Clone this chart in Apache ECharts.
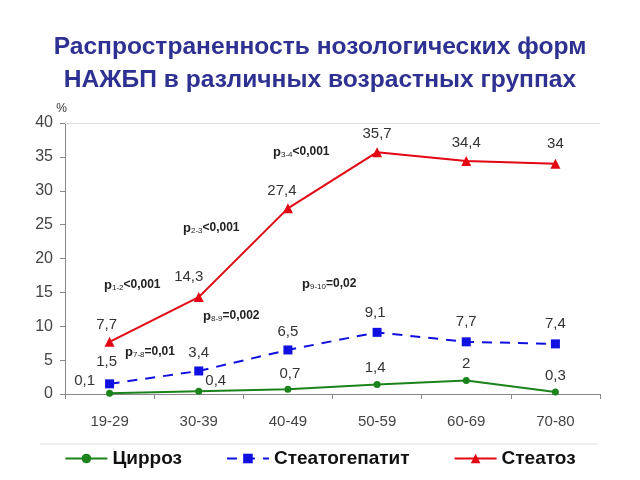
<!DOCTYPE html>
<html>
<head>
<meta charset="utf-8">
<script src="https://cdn.jsdelivr.net/npm/echarts@6/dist/echarts.min.js"></script>
<style>html,body{margin:0;padding:0;background:#fff}#c{width:640px;height:480px}</style>
</head>
<body>
<div id="c"></div>
<script>
const categories = ['19-29', '30-39', '40-49', '50-59', '60-69', '70-80'];
const seriesNames = ['Цирроз', 'Стеатогепатит', 'Стеатоз'];
const cirrhosis = [0.1, 0.4, 0.7, 1.4, 2, 0.3];
const steatohepatitis = [1.5, 3.4, 6.5, 9.1, 7.7, 7.4];
const steatosis = [7.7, 14.3, 27.4, 35.7, 34.4, 34];
const yTicks = [0, 5, 10, 15, 20, 25, 30, 35, 40];
const pNotes = [
  { sub: '1-2', rest: '<0,001' },
  { sub: '2-3', rest: '<0,001' },
  { sub: '3-4', rest: '<0,001' },
  { sub: '7-8', rest: '=0,01' },
  { sub: '8-9', rest: '=0,002' },
  { sub: '9-10', rest: '=0,02' }
];

// label offsets (styling only)
const offCir = [[-25,-12],[17,-10],[2,-15],[-2,-17],[0,-17],[0,-16]];
const offHep = [[-3,-22],[0,-18],[0,-18],[-2,-19],[0,-20],[0,-20]];
const offSt  = [[-3,-17],[-10,-20],[-6,-18],[0,-18],[0,-18],[0,-20]];
const notePos = [[104,285],[183,228],[273,152],[125,352],[203,316],[302,284]];

const fmt = v => String(v).replace('.', ',');
function mkData(vals, offs) {
  return vals.map((v, i) => ({
    value: v,
    label: { show: true, position: 'inside', offset: offs[i], formatter: () => fmt(v) }
  }));
}
const lblStyle = { color: '#333', fontSize: 15, fontFamily: 'Liberation Sans' };

const chart = echarts.init(document.getElementById('c'));
const option = {
  animation: false,
  backgroundColor: '#fff',
  title: {
    text: 'Распространенность нозологических форм\nНАЖБП в различных возрастных группах',
    left: 'center', top: 26,
    textStyle: { color: '#2e3192', fontSize: 24.6, fontWeight: 'bold', fontFamily: 'Liberation Sans', lineHeight: 33 }
  },
  grid: { left: 65, right: 40, top: 123, bottom: 86, containLabel: false },
  legend: {
    bottom: 7, left: 'center', itemWidth: 42, itemHeight: 12, itemGap: 44,
    textStyle: { fontSize: 19, fontWeight: 'bold', fontFamily: 'Liberation Sans', color: '#111' },
    data: seriesNames
  },
  xAxis: {
    type: 'category', data: categories, boundaryGap: true,
    axisLine: { lineStyle: { color: '#888', width: 1 } },
    axisTick: { show: true, alignWithLabel: false, length: 5, lineStyle: { color: '#888' } },
    axisLabel: { color: '#444', fontSize: 15, fontFamily: 'Liberation Sans', margin: 20 }
  },
  yAxis: {
    type: 'value', min: 0, max: 40, interval: 5,
    name: '%', nameLocation: 'end', nameGap: 8,
    nameTextStyle: { color: '#333', fontSize: 12, align: 'right', padding: [0, -2, 0, 0] },
    axisLine: { show: true, lineStyle: { color: '#888' } },
    axisTick: { show: true, length: 5, lineStyle: { color: '#888' } },
    splitLine: { show: false },
    axisLabel: { color: '#444', fontSize: 16, fontFamily: 'Liberation Sans', margin: 12,
      formatter: v => yTicks.includes(v) ? String(v) : '' }
  },
  series: [
    {
      name: seriesNames[0], type: 'line', data: mkData(cirrhosis, offCir),
      symbol: 'circle', symbolSize: 7, color: '#1b831b',
      lineStyle: { width: 2, color: '#1b831b' }, itemStyle: { color: '#1b831b' },
      label: lblStyle, z: 3,
      markLine: { silent: true, symbol: 'none', label: { show: false },
        lineStyle: { color: '#ddd', type: 'solid', width: 1 }, data: [{ yAxis: 40 }] }
    },
    {
      name: seriesNames[1], type: 'line', data: mkData(steatohepatitis, offHep),
      symbol: 'rect', symbolSize: 9, color: '#1010e0',
      lineStyle: { width: 2, color: '#1010e0', type: [10, 8] }, itemStyle: { color: '#1010e0' },
      label: lblStyle, z: 4
    },
    {
      name: seriesNames[2], type: 'line', data: mkData(steatosis, offSt),
      symbol: 'triangle', symbolSize: 10, color: '#e30613',
      lineStyle: { width: 2, color: '#e30613' }, itemStyle: { color: '#e30613' },
      label: lblStyle, z: 5
    }
  ],
  graphic: [
    { type: 'line', shape: { x1: 40, y1: 444, x2: 598, y2: 444 }, style: { stroke: '#ddd', lineWidth: 1 }, silent: true }
  ].concat(pNotes.map((n, i) => ({
    type: 'text', x: notePos[i][0], y: notePos[i][1], silent: true,
    style: {
      text: '{p|p}{s|' + n.sub + '}{t|' + n.rest + '}',
      verticalAlign: 'middle', align: 'left',
      rich: {
        p: { fontSize: 13, fontWeight: 'bold', fill: '#222', fontFamily: 'Liberation Sans' },
        s: { fontSize: 8, fill: '#222', fontFamily: 'Liberation Sans', padding: [6, 0, 0, 0] },
        t: { fontSize: 12, fontWeight: 'bold', fill: '#222', fontFamily: 'Liberation Sans' }
      }
    }
  })))
};
chart.setOption(option);
</script>
</body>
</html>
